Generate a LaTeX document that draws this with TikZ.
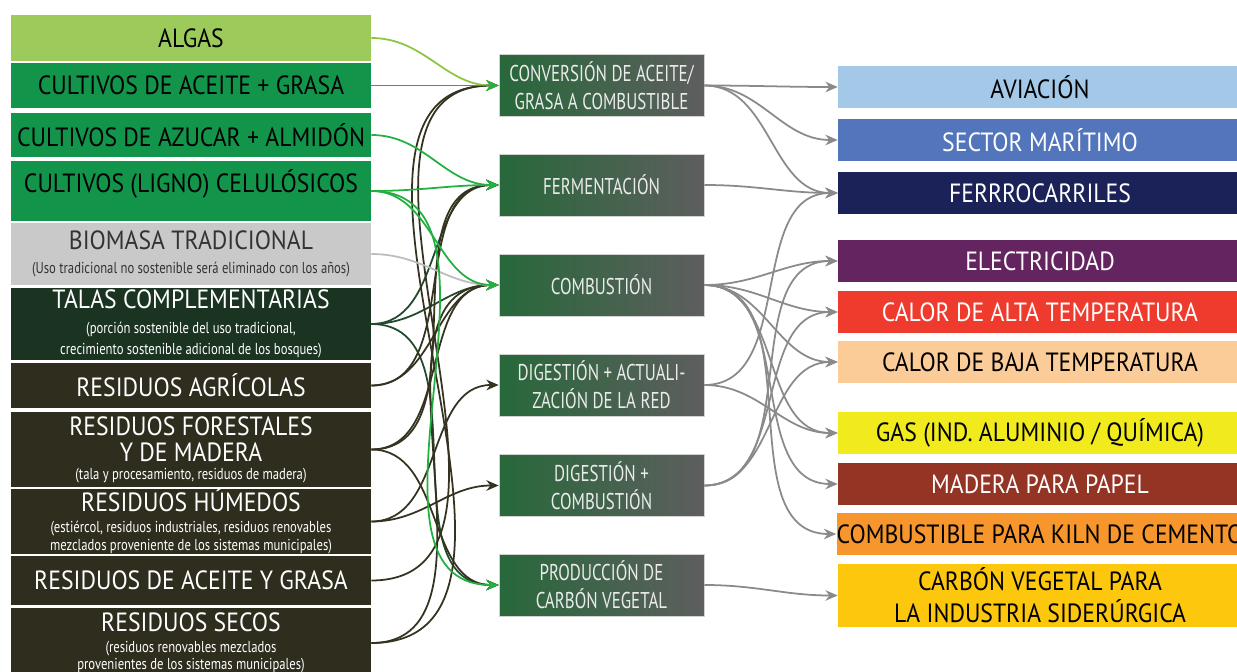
\documentclass[tikz,border=0pt]{standalone}
\usepackage{fontspec}
\setmainfont{PT Sans}[FakeStretch=0.9]
\newfontfamily\narrowfont{PT Sans}[FakeStretch=0.74]
\newfontfamily\notefont{PT Sans}[FakeStretch=0.8]
\usetikzlibrary{arrows.meta}

% box colours
\definecolor{algae}{HTML}{9CCB5B}
\definecolor{crop}{HTML}{12954B}
\definecolor{tradgray}{HTML}{C9C9C9}
\definecolor{talagreen}{HTML}{1B3421}
\definecolor{residue}{HTML}{2E2D1E}
\definecolor{procgreen}{HTML}{27683A}
\definecolor{procgray}{HTML}{5E5E5E}
\definecolor{aviblue}{HTML}{A3C8E8}
\definecolor{seablue}{HTML}{5275BC}
\definecolor{railnavy}{HTML}{1B2257}
\definecolor{elecpurple}{HTML}{63245F}
\definecolor{hotred}{HTML}{EE3B2E}
\definecolor{warmpeach}{HTML}{FCCC98}
\definecolor{gasyellow}{HTML}{F1EB1E}
\definecolor{paperbrown}{HTML}{943424}
\definecolor{kilnorange}{HTML}{F6962C}
\definecolor{charcoalgold}{HTML}{FDC70E}
% line colours
\definecolor{lnalgae}{HTML}{8DC63F}
\definecolor{lncrop}{HTML}{22B040}
\definecolor{lntrad}{HTML}{BDBDBD}
\definecolor{lntala}{HTML}{1F4A2C}
\definecolor{lnres}{HTML}{35331F}
\definecolor{lnout}{HTML}{8A8A8A}

\newcommand\smalltxt[1]{{\notefont\fontsize{9}{9}\selectfont #1}}
\newcommand\up[1]{\raisebox{0.14cm}[\height][\depth]{#1}}

\begin{document}
\begin{tikzpicture}[x=0.02cm, y=-0.02cm,
  feed/.style={fill=#1, minimum width=7.2cm, inner sep=0pt, align=center,
    font=\fontsize{15}{11}\selectfont},
  proc/.style={left color=procgreen, right color=procgray, draw=gray!35,
    minimum width=4.1cm, minimum height=1.24cm, inner sep=0pt, align=center,
    text=white!92!black, font=\narrowfont\fontsize{13}{16}\selectfont},
  enduse/.style={fill=#1, minimum width=8.08cm, minimum height=0.84cm,
    inner sep=0pt, align=center, font=\fontsize{15}{18}\selectfont},
  flow/.style={line width=1pt, -{Stealth[length=7pt,width=6pt]}}]

\fill[white] (0,0) rectangle (1237,672);
\clip (0,0) rectangle (1237,672);

% sources
\node[feed=algae, minimum height=0.92cm] (algas) at (191,38) {ALGAS};
\node[feed=crop, minimum height=0.9cm] (cropoil) at (191,85.5) {CULTIVOS DE ACEITE + GRASA};
\node[feed=crop, minimum height=0.88cm] (sugar) at (191,135) {CULTIVOS DE AZUCAR + ALMIDÓN};
\node[feed=crop, minimum height=1.2cm] (ligno) at (191,191) {\up{CULTIVOS (LIGNO) CELULÓSICOS}};
\node[feed=tradgray, text=black!80, minimum height=1.24cm] (trad) at (191,254)
  {BIOMASA TRADICIONAL\\[3pt] \smalltxt{(Uso tradicional no sostenible será eliminado con los años)}};
\node[feed=talagreen, text=white, minimum height=1.44cm] (talas) at (191,324)
  {TALAS COMPLEMENTARIAS\\[3pt] \smalltxt{(porción sostenible del uso tradicional,}\\[1pt]
   \smalltxt{crecimiento sostenible adicional de los bosques)}};
\node[feed=residue, text=white, minimum height=0.9cm] (agri) at (191,385.5) {RESIDUOS AGRÍCOLAS};
\node[feed=residue, text=white, minimum height=1.5cm] (forest) at (191,449.5)
  {RESIDUOS FORESTALES\\[4pt]Y DE MADERA\\[-1pt] \smalltxt{(tala y procesamiento, residuos de madera)}};
\node[feed=residue, text=white, minimum height=1.22cm] (wet) at (191,521.5)
  {RESIDUOS HÚMEDOS\\[1pt] \smalltxt{(estiércol, residuos industriales, residuos renovables}\\[-1pt]
   \smalltxt{mezclados proveniente de los sistemas municipales)}};
\node[feed=residue, text=white, minimum height=0.98cm] (oilres) at (191,580.5) {RESIDUOS DE ACEITE Y GRASA};
\node[feed=residue, text=white, minimum height=1.4cm] (dry) at (191,643)
  {RESIDUOS SECOS\\[1pt] \smalltxt{(residuos renovables mezclados}\\[-1.5pt]
   \smalltxt{provenientes de los sistemas municipales)}};

% conversion routes
\node[proc] (conv) at (601.5,85.5) {CONVERSIÓN DE ACEITE/\\GRASA A COMBUSTIBLE};
\node[proc] (ferm) at (601.5,185) {FERMENTACIÓN};
\node[proc] (comb) at (601.5,285) {COMBUSTIÓN};
\node[proc] (digup) at (601.5,385) {DIGESTIÓN + ACTUALI-\\ZACIÓN DE LA RED};
\node[proc] (digcomb) at (601.5,485.5) {DIGESTIÓN +\\COMBUSTIÓN};
\node[proc] (coal) at (601.5,585) {PRODUCCIÓN DE\\CARBÓN VEGETAL};

% end uses
\node[enduse=aviblue] (avi) at (1040,87) {AVIACIÓN};
\node[enduse=seablue, text=white] (sea) at (1040,140) {SECTOR MARÍTIMO};
\node[enduse=railnavy, text=white] (rail) at (1040,193) {FERRROCARRILES};
\node[enduse=elecpurple, text=white] (elec) at (1040,261) {ELECTRICIDAD};
\node[enduse=hotred, text=white] (hot) at (1040,312) {CALOR DE ALTA TEMPERATURA};
\node[enduse=warmpeach] (warm) at (1040,362) {CALOR DE BAJA TEMPERATURA};
\node[enduse=gasyellow] (gas) at (1040,433) {GAS (IND. ALUMINIO / QUÍMICA)};
\node[enduse=paperbrown, text=white] (paper) at (1040,484) {MADERA PARA PAPEL};
\node[enduse=kilnorange] (kiln) at (1040,534) {COMBUSTIBLE PARA KILN DE CEMENTO};
\node[enduse=charcoalgold, minimum height=1.26cm] (charcoal) at (1040,595.5)
  {CARBÓN VEGETAL PARA\\LA INDUSTRIA SIDERÚRGICA};

% feedstock -> route
\foreach \a/\b/\c in {talas/ferm/lntala, talas/comb/lntala, talas/coal/lntala,
    agri/ferm/lnres, agri/comb/lnres, forest/ferm/lnres, forest/comb/lnres,
    forest/coal/lnres, wet/digup/lnres, wet/digcomb/lnres, oilres/conv/lnres,
    dry/conv/lnres, dry/comb/lnres, trad/comb/lntrad,
    algas/conv/lnalgae, cropoil/conv/lncrop, sugar/ferm/lncrop,
    ligno/ferm/lncrop, ligno/comb/lncrop, ligno/coal/lncrop}
  \draw[flow, \c] (\a.east) to[out=0, in=180] (\b.west);

% route -> end use
\foreach \a/\b in {conv/avi, conv/sea, conv/rail, ferm/rail,
    comb/elec, comb/hot, comb/warm, comb/gas, comb/paper, comb/kiln,
    digup/rail, digup/gas, digcomb/elec, digcomb/hot, digcomb/warm,
    coal/charcoal}
  \draw[flow, lnout] (\a.east) to[out=0, in=180] (\b.west);

\end{tikzpicture}
\end{document}
